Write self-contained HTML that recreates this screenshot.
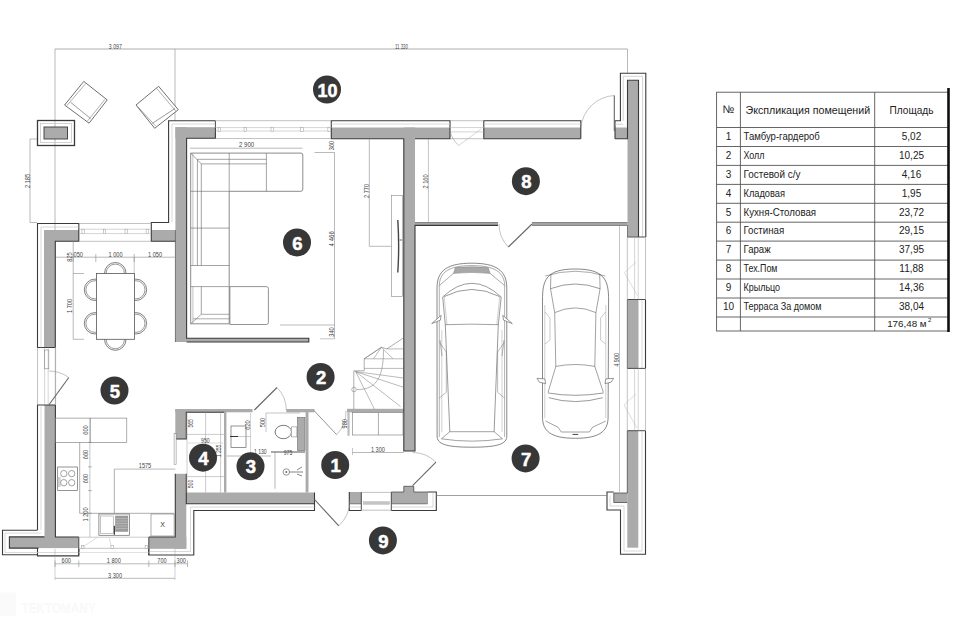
<!DOCTYPE html>
<html><head><meta charset="utf-8"><style>
html,body{margin:0;padding:0;background:#fff;width:960px;height:640px;overflow:hidden}
svg{display:block;font-family:"Liberation Sans",sans-serif}
</style></head><body>
<svg width="960" height="640" viewBox="0 0 960 640">
<rect width="960" height="640" fill="#fff"/>
<line x1="55" y1="49" x2="627.5" y2="49" stroke="#8a8a8a" stroke-width="0.7"/>
<line x1="55" y1="49" x2="55" y2="241" stroke="#8a8a8a" stroke-width="0.6"/>
<line x1="175" y1="49" x2="175" y2="121" stroke="#8a8a8a" stroke-width="0.6"/>
<line x1="627.5" y1="49" x2="627.5" y2="73" stroke="#8a8a8a" stroke-width="0.6"/>
<text transform="translate(115.3 48.9) scale(0.72 1)" font-size="7.2" fill="#444" text-anchor="middle">3 097</text>
<text transform="translate(401.4 48.9) scale(0.6 1)" font-size="7.2" fill="#444" text-anchor="middle">11 330</text>
<line x1="30" y1="139" x2="30" y2="222.5" stroke="#8a8a8a" stroke-width="0.6"/>
<line x1="30" y1="139" x2="37" y2="139" stroke="#8a8a8a" stroke-width="0.6"/>
<line x1="30" y1="222.5" x2="37" y2="222.5" stroke="#8a8a8a" stroke-width="0.6"/>
<text transform="translate(29.5 181) rotate(-90) scale(0.78 1)" font-size="7.2" fill="#444" text-anchor="middle">2 185</text>
<rect x="37.5" y="120.5" width="37" height="25" fill="none" stroke="#3a3a3a" stroke-width="1.3" />
<rect x="40.5" y="123.5" width="31" height="19" fill="none" stroke="#c8c8c8" stroke-width="0.8" />
<rect x="44" y="127" width="23.5" height="12" fill="#ababab" stroke="#3a3a3a" stroke-width="0.9" />
<path d="M83.8,81.4 L107.2,99.9 L89.1,123.2 L64.6,105 Z" stroke="#555" stroke-width="0.85" fill="#fff" />
<path d="M85.6,83.6 L66.9,105.6" stroke="#777" stroke-width="0.6" fill="none" />
<path d="M104.9,99.4 L87.4,121.2" stroke="#777" stroke-width="0.6" fill="none" />
<path d="M70.6,102.3 L90.6,118.6" stroke="#666" stroke-width="0.65" fill="none" />
<path d="M158.6,86.3 L178.3,109.7 L154.7,128.3 L136,105 Z" stroke="#555" stroke-width="0.85" fill="#fff" />
<path d="M156.6,88.3 L176,111.3" stroke="#777" stroke-width="0.6" fill="none" />
<path d="M137.9,106.8 L155.6,126" stroke="#777" stroke-width="0.6" fill="none" />
<path d="M152.5,123.3 L175.2,108.3" stroke="#666" stroke-width="0.65" fill="none" />
<rect x="175.4" y="127.2" width="11.2" height="214.7" fill="#ababab" stroke="none" stroke-width="1" />
<rect x="175.4" y="127.2" width="40" height="11.1" fill="#ababab" stroke="none" stroke-width="1" />
<rect x="331.3" y="127.5" width="118.7" height="11.2" fill="#ababab" stroke="none" stroke-width="1" />
<rect x="403.8" y="127.5" width="11.2" height="323.5" fill="#ababab" stroke="none" stroke-width="1" />
<rect x="483.8" y="127.5" width="97" height="11.2" fill="#ababab" stroke="none" stroke-width="1" />
<rect x="615" y="127.5" width="12.5" height="11.2" fill="#ababab" stroke="none" stroke-width="1" />
<rect x="627.5" y="80.3" width="11" height="156.4" fill="#ababab" stroke="none" stroke-width="1" />
<rect x="44" y="230" width="11.3" height="117.5" fill="#ababab" stroke="none" stroke-width="1" />
<rect x="44" y="230" width="34.8" height="11.3" fill="#ababab" stroke="none" stroke-width="1" />
<rect x="151.3" y="230" width="24.1" height="11.3" fill="#ababab" stroke="none" stroke-width="1" />
<rect x="44.5" y="405" width="10.9" height="132" fill="#ababab" stroke="none" stroke-width="1" />
<rect x="9.4" y="536.9" width="69.4" height="11.2" fill="#ababab" stroke="none" stroke-width="1" />
<rect x="148.8" y="537" width="37.5" height="11.8" fill="#ababab" stroke="none" stroke-width="1" />
<rect x="175.3" y="473.8" width="11" height="75" fill="#ababab" stroke="none" stroke-width="1" />
<rect x="175.3" y="409" width="11" height="30" fill="#ababab" stroke="none" stroke-width="1" />
<rect x="186" y="492.5" width="128.5" height="11.3" fill="#ababab" stroke="none" stroke-width="1" />
<rect x="349.3" y="492" width="12" height="11.8" fill="#ababab" stroke="none" stroke-width="1" />
<rect x="391.3" y="492" width="36.2" height="11.8" fill="#ababab" stroke="none" stroke-width="1" />
<rect x="403.8" y="486.3" width="10" height="6" fill="#ababab" stroke="none" stroke-width="1" />
<rect x="627.3" y="299.5" width="11.2" height="69" fill="#ababab" stroke="none" stroke-width="1" />
<rect x="627.3" y="430.7" width="11" height="117" fill="#ababab" stroke="none" stroke-width="1" />
<rect x="613.8" y="493" width="13.7" height="9.5" fill="#ababab" stroke="none" stroke-width="1" />
<rect x="175.4" y="338.2" width="133.4" height="3.8" fill="#ababab" stroke="none" stroke-width="1" />
<rect x="175.3" y="409" width="77.2" height="3.3" fill="#ababab" stroke="none" stroke-width="1" />
<rect x="286.3" y="409" width="28.2" height="3.3" fill="#ababab" stroke="none" stroke-width="1" />
<rect x="224" y="412" width="2.4" height="80.5" fill="#ababab" stroke="none" stroke-width="1" />
<rect x="305.6" y="409" width="2.9" height="83.5" fill="#ababab" stroke="none" stroke-width="1" />
<rect x="347" y="408.8" width="56.8" height="3.6" fill="#ababab" stroke="none" stroke-width="1" />
<rect x="415" y="222.6" width="83" height="2.8" fill="#ababab" stroke="none" stroke-width="1" />
<rect x="532" y="222.6" width="95.5" height="2.8" fill="#ababab" stroke="none" stroke-width="1" />
<path d="M215.4,120.7 L168.6,120.7 L168.6,222.5 L151.3,222.5 L151.3,230" stroke="#3a3a3a" stroke-width="1.1" fill="none" />
<path d="M55.3,347.5 L37.5,347.5 L37.5,223.5 L78.8,223.5 L78.8,230" stroke="#3a3a3a" stroke-width="1.1" fill="none" />
<path d="M55.4,405 L37.5,405 L37.5,530" stroke="#3a3a3a" stroke-width="1.1" fill="none" />
<line x1="55.6" y1="347.5" x2="55.6" y2="405" stroke="#999" stroke-width="0.6"/>
<path d="M331.3,127.5 L331.3,120.7 L450,120.7 L450,127.5" stroke="#3a3a3a" stroke-width="1.1" fill="none" />
<path d="M483.8,127.5 L483.8,120.7 L580.8,120.7 L580.8,138.7" stroke="#3a3a3a" stroke-width="1.1" fill="none" />
<path d="M615,138.7 L615,120.7 L620.4,120.7 L620.4,73.3 L645.8,73.3 L645.8,237" stroke="#3a3a3a" stroke-width="1.1" fill="none" />
<path d="M645.5,299.5 L645.5,368.4" stroke="#3a3a3a" stroke-width="1.1" fill="none" />
<path d="M645.5,430.7 L645.5,554.3 L620.5,554.3 L620.5,510 L607,510 L607,492 L613.8,492" stroke="#3a3a3a" stroke-width="1.1" fill="none" />
<path d="M427.5,492 L436.3,492 L436.3,510.5 L391.3,510.5" stroke="#3a3a3a" stroke-width="1.1" fill="none" />
<path d="M361.3,510.5 L349.3,510.5 L349.3,492" stroke="#3a3a3a" stroke-width="1.1" fill="none" />
<path d="M314.5,492.5 L314.5,510.5 L193.8,510.5 L193.8,555 L148.8,555 L148.8,548.8" stroke="#3a3a3a" stroke-width="1.1" fill="none" />
<path d="M78.8,548.8 L78.8,555.9 L37.5,555.9 L37.5,548.1" stroke="#3a3a3a" stroke-width="1.1" fill="none" />
<path d="M37.5,554.7 L2.5,554.7 L2.5,530.3 L37.5,530.3" stroke="#3a3a3a" stroke-width="1.1" fill="none" />
<path d="M44.5,536.9 L9.4,536.9 L9.4,548.1 L38.5,548.1" stroke="#3a3a3a" stroke-width="1.1" fill="none" />
<path d="M215.4,124 L172,124 L172,222" stroke="#c8c8c8" stroke-width="0.7" fill="none" />
<path d="M41,347.5 L41,227 L78.8,227" stroke="#c8c8c8" stroke-width="0.7" fill="none" />
<path d="M41,405 L41,530" stroke="#c8c8c8" stroke-width="0.7" fill="none" />
<path d="M331.3,124 L450,124" stroke="#c8c8c8" stroke-width="0.7" fill="none" />
<path d="M483.8,124 L580.8,124" stroke="#c8c8c8" stroke-width="0.7" fill="none" />
<path d="M623.2,120.7 L623.2,76.3 L642.6,76.3 L642.6,237" stroke="#c8c8c8" stroke-width="0.8" fill="none" />
<path d="M615,124.2 L623.2,124.2" stroke="#c8c8c8" stroke-width="0.8" fill="none" />
<path d="M642,299.5 L642,368.4" stroke="#c8c8c8" stroke-width="0.7" fill="none" />
<path d="M642,430.7 L642,551 L624,551 L624,506 L610,506 L610,495.5" stroke="#c8c8c8" stroke-width="0.7" fill="none" />
<path d="M433,493 L433,507 L391.3,507" stroke="#c8c8c8" stroke-width="0.7" fill="none" />
<path d="M361.3,507 L349.3,507" stroke="#c8c8c8" stroke-width="0.7" fill="none" />
<path d="M314.5,507 L190.5,507 L190.5,551.5 L148.8,551.5" stroke="#c8c8c8" stroke-width="0.7" fill="none" />
<path d="M78.8,552.5 L5,552.5 L5,533.1 L41,533.1" stroke="#c8c8c8" stroke-width="0.7" fill="none" />
<path d="M215.4,127.2 L215.4,138.3 L186.6,138.3 L186.6,338.2 L308.8,338.2 L308.8,342 L186.6,342" stroke="#3a3a3a" stroke-width="1.1" fill="none" />
<path d="M175.4,342 L175.4,230" stroke="#3a3a3a" stroke-width="0.6" fill="none" />
<path d="M331.3,127.5 L331.3,138.7 L403.8,138.7 L403.8,451 L415,451 L415,225.4 L498,225.4" stroke="#3a3a3a" stroke-width="1.1" fill="none" />
<path d="M415,138.7 L450,138.7 L450,127.5" stroke="#3a3a3a" stroke-width="1.1" fill="none" />
<path d="M415,222.6 L498,222.6" stroke="#3a3a3a" stroke-width="0.6" fill="none" />
<path d="M532,222.6 L627.5,222.6" stroke="#3a3a3a" stroke-width="0.6" fill="none" />
<path d="M532,225.4 L627.5,225.4 L627.5,237" stroke="#3a3a3a" stroke-width="0.6" fill="none" />
<path d="M483.8,127.5 L483.8,138.7 L580.8,138.7" stroke="#3a3a3a" stroke-width="1.1" fill="none" />
<path d="M615,138.7 L627.5,138.7 L627.5,80.3 L638.5,80.3 L638.5,237" stroke="#3a3a3a" stroke-width="1.1" fill="none" />
<path d="M55.3,347.5 L55.3,241.3 L78.8,241.3 L78.8,230" stroke="#3a3a3a" stroke-width="1.1" fill="none" />
<path d="M151.3,230 L151.3,241.3 L175.4,241.3" stroke="#3a3a3a" stroke-width="1.1" fill="none" />
<path d="M55.4,405 L55.4,537 L78.8,537" stroke="#3a3a3a" stroke-width="1.1" fill="none" />
<path d="M148.8,537 L175.3,537 L175.3,473.8" stroke="#3a3a3a" stroke-width="1.1" fill="none" />
<path d="M186.3,473.8 L186.3,503.8 L314.5,503.8" stroke="#3a3a3a" stroke-width="1.1" fill="none" />
<path d="M175.3,439 L186.3,439 L186.3,412.3 L224,412.3" stroke="#3a3a3a" stroke-width="1.1" fill="none" />
<path d="M627.3,299.5 L627.3,368.4" stroke="#3a3a3a" stroke-width="0.6" fill="none" />
<path d="M627.3,430.7 L627.3,493 L613.8,493 L613.8,502.5 L627.3,502.5" stroke="#3a3a3a" stroke-width="0.7" fill="none" />
<path d="M427.5,492 L427.5,503.8" stroke="#777" stroke-width="0.5" fill="none" />
<path d="M427.5,492 L413.8,492 L413.8,486.3 L403.8,486.3 L403.8,492 L391.3,492" stroke="#3a3a3a" stroke-width="0.7" fill="none" />
<line x1="215.4" y1="120.7" x2="215.4" y2="127.2" stroke="#3a3a3a" stroke-width="0.9"/>
<line x1="78.8" y1="537" x2="78.8" y2="555" stroke="#3a3a3a" stroke-width="0.9"/>
<line x1="148.8" y1="537" x2="148.8" y2="555" stroke="#3a3a3a" stroke-width="0.9"/>
<line x1="361.3" y1="492" x2="361.3" y2="510.5" stroke="#3a3a3a" stroke-width="0.9"/>
<line x1="391.3" y1="492" x2="391.3" y2="510.5" stroke="#3a3a3a" stroke-width="0.9"/>
<line x1="627.3" y1="237" x2="645.5" y2="237" stroke="#3a3a3a" stroke-width="0.9"/>
<line x1="627.3" y1="299.5" x2="645.5" y2="299.5" stroke="#3a3a3a" stroke-width="0.9"/>
<line x1="627.3" y1="368.4" x2="645.5" y2="368.4" stroke="#3a3a3a" stroke-width="0.9"/>
<line x1="627.3" y1="430.7" x2="645.5" y2="430.7" stroke="#3a3a3a" stroke-width="0.9"/>
<line x1="215.4" y1="120.7" x2="331.3" y2="120.7" stroke="#999" stroke-width="0.6"/>
<line x1="215.4" y1="138.5" x2="331.3" y2="138.5" stroke="#999" stroke-width="0.6"/>
<line x1="215.4" y1="127.6" x2="331.3" y2="127.6" stroke="#aaa" stroke-width="0.5"/>
<line x1="215.4" y1="131" x2="331.3" y2="131" stroke="#aaa" stroke-width="0.5"/>
<rect x="218.1" y="127.4" width="2.6" height="4" fill="#fff" stroke="#999" stroke-width="0.5" />
<rect x="244.1" y="127.4" width="2.6" height="4" fill="#fff" stroke="#999" stroke-width="0.5" />
<rect x="271.0" y="127.4" width="2.6" height="4" fill="#fff" stroke="#999" stroke-width="0.5" />
<rect x="300.7" y="127.4" width="2.6" height="4" fill="#fff" stroke="#999" stroke-width="0.5" />
<rect x="327.9" y="127.4" width="2.6" height="4" fill="#fff" stroke="#999" stroke-width="0.5" />
<line x1="78.8" y1="223.5" x2="151.3" y2="223.5" stroke="#999" stroke-width="0.6"/>
<line x1="78.8" y1="241.3" x2="151.3" y2="241.3" stroke="#999" stroke-width="0.6"/>
<line x1="78.8" y1="229.2" x2="151.3" y2="229.2" stroke="#aaa" stroke-width="0.5"/>
<line x1="78.8" y1="233.6" x2="151.3" y2="233.6" stroke="#aaa" stroke-width="0.5"/>
<rect x="81.89999999999999" y="229.2" width="2.4" height="4.4" fill="#fff" stroke="#999" stroke-width="0.5" />
<rect x="103.3" y="229.2" width="2.4" height="4.4" fill="#fff" stroke="#999" stroke-width="0.5" />
<rect x="125.0" y="229.2" width="2.4" height="4.4" fill="#fff" stroke="#999" stroke-width="0.5" />
<rect x="146.10000000000002" y="229.2" width="2.4" height="4.4" fill="#fff" stroke="#999" stroke-width="0.5" />
<line x1="450" y1="120.7" x2="483.8" y2="120.7" stroke="#999" stroke-width="0.6"/>
<line x1="450" y1="138.7" x2="483.8" y2="138.7" stroke="#999" stroke-width="0.6"/>
<line x1="450" y1="127.53999999999999" x2="483.8" y2="127.53999999999999" stroke="#aaa" stroke-width="0.5"/>
<line x1="450" y1="131.85999999999999" x2="483.8" y2="131.85999999999999" stroke="#aaa" stroke-width="0.5"/>
<line x1="78.8" y1="537.2" x2="148.8" y2="537.2" stroke="#aaa" stroke-width="0.6"/>
<line x1="78.8" y1="548.3" x2="148.8" y2="548.3" stroke="#999" stroke-width="0.6"/>
<line x1="78.8" y1="552.5" x2="148.8" y2="552.5" stroke="#ccc" stroke-width="0.6"/>
<rect x="81.4" y="545.5" width="2.6" height="2.8" fill="#fff" stroke="#999" stroke-width="0.5" />
<rect x="110.9" y="545.5" width="2.6" height="2.8" fill="#fff" stroke="#999" stroke-width="0.5" />
<rect x="145.1" y="545.5" width="2.6" height="2.8" fill="#fff" stroke="#999" stroke-width="0.5" />
<path d="M82.2,547.3 L97.2,537.5 M109.4,538.4 L111.2,546" stroke="#bbb" stroke-width="0.5" fill="none" />
<line x1="361.3" y1="492.4" x2="391.3" y2="492.4" stroke="#999" stroke-width="0.6"/>
<line x1="361.3" y1="510.2" x2="391.3" y2="510.2" stroke="#999" stroke-width="0.6"/>
<rect x="363.4" y="501.7" width="26.1" height="2.6" fill="#c4c4c4" stroke="#aaa" stroke-width="0.4" />
<path d="M349.3,503.8 L361.3,503.8" stroke="#555" stroke-width="0.7" fill="none" />
<path d="M391.3,503.8 L427.5,503.8" stroke="#555" stroke-width="0.7" fill="none" />
<line x1="627.3" y1="237" x2="627.3" y2="299.5" stroke="#999" stroke-width="0.6"/>
<line x1="645.5" y1="237" x2="645.5" y2="299.5" stroke="#999" stroke-width="0.6"/>
<line x1="634.5799999999999" y1="237" x2="634.5799999999999" y2="299.5" stroke="#aaa" stroke-width="0.5"/>
<line x1="638.22" y1="237" x2="638.22" y2="299.5" stroke="#aaa" stroke-width="0.5"/>
<line x1="627.3" y1="368.4" x2="627.3" y2="430.7" stroke="#999" stroke-width="0.6"/>
<line x1="645.5" y1="368.4" x2="645.5" y2="430.7" stroke="#999" stroke-width="0.6"/>
<line x1="634.5799999999999" y1="368.4" x2="634.5799999999999" y2="430.7" stroke="#aaa" stroke-width="0.5"/>
<line x1="638.22" y1="368.4" x2="638.22" y2="430.7" stroke="#aaa" stroke-width="0.5"/>
<line x1="37.5" y1="347.5" x2="37.5" y2="405" stroke="#999" stroke-width="0.6"/>
<line x1="55.3" y1="347.5" x2="55.3" y2="405" stroke="#999" stroke-width="0.6"/>
<line x1="44.62" y1="347.5" x2="44.62" y2="405" stroke="#aaa" stroke-width="0.5"/>
<line x1="48.18" y1="347.5" x2="48.18" y2="405" stroke="#aaa" stroke-width="0.5"/>
<path d="M48.8,405 L68.8,377.5" stroke="#666" stroke-width="1.1" fill="none" />
<path d="M68.8,377.5 A34.0,34.0 0 0 0 48.8,371" stroke="#888" stroke-width="0.5" fill="none" />
<rect x="44.5" y="350" width="4.3" height="18.8" fill="none" stroke="#888" stroke-width="0.6" />
<path d="M254.4,410 L277,387.5" stroke="#666" stroke-width="1.1" fill="none" />
<path d="M277,387.5 A31.9,31.9 0 0 1 286.3,410" stroke="#888" stroke-width="0.5" fill="none" />
<path d="M314,410.6 L336.6,434.6" stroke="#666" stroke-width="0.7" fill="none" />
<path d="M336.6,434.6 A33.0,33.0 0 0 0 346,410.6" stroke="#888" stroke-width="0.5" fill="none" />
<path d="M412.6,485.7 L436,462.2" stroke="#666" stroke-width="1.1" fill="none" />
<path d="M436,462.2 A33.2,33.2 0 0 0 412.6,452.5" stroke="#888" stroke-width="0.5" fill="none" />
<path d="M314.5,499.5 L338.8,525.8" stroke="#666" stroke-width="1.1" fill="none" />
<path d="M338.8,525.8 A35.8,35.8 0 0 0 350,499.5" stroke="#888" stroke-width="0.5" fill="none" />
<path d="M532,224 L508.3,247" stroke="#666" stroke-width="1.1" fill="none" />
<path d="M508.3,247 A33.0,33.0 0 0 1 499,224" stroke="#888" stroke-width="0.5" fill="none" />
<path d="M614.3,131 L614.3,95.5" stroke="#666" stroke-width="1.1" fill="none" />
<path d="M614.3,95.5 A35.5,35.5 0 0 0 580.8,128" stroke="#888" stroke-width="0.5" fill="none" />
<path d="M481.3,128.8 L458.8,145.5" stroke="#aaa" stroke-width="0.5" fill="none" />
<path d="M458.8,145.5 A28.0,28.0 0 0 1 450,131" stroke="#888" stroke-width="0.5" fill="none" />
<rect x="174.1" y="433.5" width="2" height="31" fill="#fff" stroke="#777" stroke-width="0.5" />
<path d="M624.4,272.6 L637.5,295.6 M624.4,272.6 L636,262" stroke="#bbb" stroke-width="0.5" fill="none" />
<path d="M624,405 L637,428 M624,405 L636,394" stroke="#bbb" stroke-width="0.5" fill="none" />
<circle cx="115.3" cy="273.2" r="10.7" fill="none" stroke="#555" stroke-width="0.75"/>
<circle cx="115.3" cy="273.2" r="9.1" fill="none" stroke="#555" stroke-width="0.6"/>
<circle cx="115.3" cy="339.6" r="10.7" fill="none" stroke="#555" stroke-width="0.75"/>
<circle cx="115.3" cy="339.6" r="9.1" fill="none" stroke="#555" stroke-width="0.6"/>
<circle cx="95.0" cy="289.8" r="10.7" fill="none" stroke="#555" stroke-width="0.75"/>
<circle cx="95.0" cy="289.8" r="9.1" fill="none" stroke="#555" stroke-width="0.6"/>
<circle cx="95.0" cy="323.3" r="10.7" fill="none" stroke="#555" stroke-width="0.75"/>
<circle cx="95.0" cy="323.3" r="9.1" fill="none" stroke="#555" stroke-width="0.6"/>
<circle cx="135.9" cy="289.8" r="10.7" fill="none" stroke="#555" stroke-width="0.75"/>
<circle cx="135.9" cy="289.8" r="9.1" fill="none" stroke="#555" stroke-width="0.6"/>
<circle cx="135.9" cy="323.3" r="10.7" fill="none" stroke="#555" stroke-width="0.75"/>
<circle cx="135.9" cy="323.3" r="9.1" fill="none" stroke="#555" stroke-width="0.6"/>
<rect x="96.4" y="273.5" width="38.1" height="65.8" fill="#fff" stroke="#555" stroke-width="0.8" />
<line x1="55.8" y1="257.2" x2="174.9" y2="257.2" stroke="#8a8a8a" stroke-width="0.6"/>
<line x1="73.2" y1="254" x2="73.2" y2="262" stroke="#8a8a8a" stroke-width="0.6"/>
<line x1="95.8" y1="254" x2="95.8" y2="262" stroke="#8a8a8a" stroke-width="0.6"/>
<line x1="134.2" y1="254" x2="134.2" y2="262" stroke="#8a8a8a" stroke-width="0.6"/>
<line x1="134.2" y1="257" x2="134.2" y2="273.5" stroke="#8a8a8a" stroke-width="0.5"/>
<line x1="73.2" y1="241" x2="73.2" y2="339.3" stroke="#8a8a8a" stroke-width="0.6"/>
<line x1="73.2" y1="273.5" x2="84" y2="273.5" stroke="#8a8a8a" stroke-width="0.6"/>
<line x1="73.2" y1="339.3" x2="84" y2="339.3" stroke="#8a8a8a" stroke-width="0.6"/>
<text transform="translate(78.3 256.5) scale(0.78 1)" font-size="7.2" fill="#444" text-anchor="middle">050</text>
<text transform="translate(115.6 256.5) scale(0.78 1)" font-size="7.2" fill="#444" text-anchor="middle">1 000</text>
<text transform="translate(155.1 256.5) scale(0.78 1)" font-size="7.2" fill="#444" text-anchor="middle">1 050</text>
<text transform="translate(72 257) rotate(-90) scale(0.78 1)" font-size="7.2" fill="#444" text-anchor="middle">825</text>
<text transform="translate(72 306) rotate(-90) scale(0.78 1)" font-size="7.2" fill="#444" text-anchor="middle">1 700</text>
<path d="M190.7,153.1 H301 Q302.8,153.1 302.8,155 V189.3 Q302.8,191.3 300.8,191.3 H229.2 V323.8 H190.7 Z" stroke="#666" stroke-width="0.75" fill="#fff" />
<path d="M192.9,153.1 V265.5 M192.9,286.6 V323.8" stroke="#999" stroke-width="0.6" fill="none" />
<path d="M197.4,159.3 V265.5 M201.3,163.9 V265.5 M201.3,286.6 V314.3" stroke="#666" stroke-width="0.6" fill="none" />
<path d="M197.4,159.3 H266.4 M201.3,163.9 H266.4 M190.7,153.1 L201.3,163.9" stroke="#666" stroke-width="0.6" fill="none" />
<path d="M229.2,153.1 V191.3 M266.4,153.1 V191.3" stroke="#666" stroke-width="0.6" fill="none" />
<path d="M190.7,191.3 H229.2 M190.7,228.1 H229.2 M190.7,265.5 H229.2 M190.7,286.6 H229.2" stroke="#666" stroke-width="0.6" fill="none" />
<path d="M201.3,314.3 H229.2 M192.9,318.8 H229.2 M190.7,323.8 L201.3,314.3" stroke="#666" stroke-width="0.55" fill="none" />
<path d="M229.9,286.6 H266.4 Q268.4,286.6 268.4,288.6 V322.5 Q268.4,324.5 266.4,324.5 H229.9 Z" stroke="#666" stroke-width="0.7" fill="#fff" />
<line x1="190" y1="148.2" x2="302.5" y2="148.2" stroke="#8a8a8a" stroke-width="0.6"/>
<text transform="translate(246.6 147) scale(0.8 1)" font-size="7.6" fill="#444" text-anchor="middle">2 900</text>
<line x1="334.5" y1="152.5" x2="334.5" y2="338.8" stroke="#8a8a8a" stroke-width="0.6"/>
<line x1="314.5" y1="152.5" x2="334.5" y2="152.5" stroke="#8a8a8a" stroke-width="0.6"/>
<line x1="280" y1="325" x2="334.5" y2="325" stroke="#8a8a8a" stroke-width="0.6"/>
<line x1="320" y1="338.8" x2="334.5" y2="338.8" stroke="#8a8a8a" stroke-width="0.5"/>
<text transform="translate(333.5 145.5) rotate(-90) scale(0.78 1)" font-size="7.2" fill="#444" text-anchor="middle">360</text>
<text transform="translate(333.5 238.8) rotate(-90) scale(0.8 1)" font-size="7.6" fill="#444" text-anchor="middle">4 466</text>
<text transform="translate(333.5 332) rotate(-90) scale(0.78 1)" font-size="7.2" fill="#444" text-anchor="middle">340</text>
<line x1="369.3" y1="139.3" x2="369.3" y2="246.3" stroke="#8a8a8a" stroke-width="0.6"/>
<line x1="369.3" y1="246.3" x2="391.3" y2="246.3" stroke="#8a8a8a" stroke-width="0.6"/>
<text transform="translate(368.5 191) rotate(-90) scale(0.78 1)" font-size="7.2" fill="#444" text-anchor="middle">2 770</text>
<rect x="391.3" y="195.5" width="11.2" height="100.8" fill="none" stroke="#888" stroke-width="0.6" />
<path d="M397.8,220 Q399.5,246 397.8,272.5" stroke="#444" stroke-width="1.4" fill="none" />
<line x1="399.5" y1="240" x2="402" y2="240" stroke="#444" stroke-width="0.8"/>
<path d="M353.8,409 V370.8 H364.2 V358.8 L381.4,347.3 L386.9,348.9 L403.3,338" stroke="#777" stroke-width="0.6" fill="none" />
<path d="M364.2,358.8 H403.3 M364.2,368.4 H403.3 M386.9,348.9 H403.3" stroke="#777" stroke-width="0.5" fill="none" />
<path d="M355.6,371.6 L403.3,387.2 M355.6,371.6 L400.5,406.5 M355.6,371.6 L374.4,409 M355.6,371.6 L403.3,378" stroke="#777" stroke-width="0.5" fill="none" />
<path d="M364.2,358.8 L381.4,347.3 L393,358.8 M373.5,358.8 L381.4,347.3" stroke="#777" stroke-width="0.5" fill="none" />
<path d="M356.5,389.5 C376,390 383.5,378 383.5,350" stroke="#888" stroke-width="0.6" fill="none" />
<circle cx="354" cy="389.5" r="2.3" fill="none" stroke="#888" stroke-width="0.6"/>
<ellipse cx="283.3" cy="432" rx="8.2" ry="6.7" fill="#fff" stroke="#555" stroke-width="0.8"/>
<rect x="291.3" y="426.9" width="5.6" height="10" fill="#fff" stroke="#777" stroke-width="0.5" />
<rect x="297.6" y="417.5" width="7.4" height="33" fill="#ababab" stroke="#666" stroke-width="0.6" />
<line x1="266" y1="413" x2="266" y2="432" stroke="#8a8a8a" stroke-width="0.5"/>
<line x1="266" y1="413" x2="300" y2="413" stroke="#8a8a8a" stroke-width="0.5"/>
<text transform="translate(264.5 422.5) rotate(-90) scale(0.78 1)" font-size="7.2" fill="#444" text-anchor="middle">500</text>
<rect x="231" y="426" width="15" height="21.5" fill="none" stroke="#666" stroke-width="0.7" />
<line x1="230" y1="436.5" x2="238" y2="436.5" stroke="#333" stroke-width="1"/>
<line x1="238" y1="436.5" x2="251" y2="436.5" stroke="#999" stroke-width="0.5"/>
<text transform="translate(250 425) rotate(-90) scale(0.78 1)" font-size="7.2" fill="#444" text-anchor="middle">620</text>
<line x1="250.5" y1="413" x2="250.5" y2="456" stroke="#aaa" stroke-width="0.5"/>
<line x1="227" y1="456" x2="271" y2="456" stroke="#8a8a8a" stroke-width="0.6"/>
<line x1="271" y1="452" x2="305" y2="452" stroke="#555" stroke-width="1.2"/>
<line x1="275" y1="452" x2="275" y2="488.8" stroke="#888" stroke-width="0.6"/>
<text transform="translate(260.3 454.2) scale(0.78 1)" font-size="6.5" fill="#444" text-anchor="middle">1 130</text>
<text transform="translate(288 455) scale(0.78 1)" font-size="6.5" fill="#444" text-anchor="middle">975</text>
<circle cx="286.3" cy="472" r="3.2" fill="none" stroke="#666" stroke-width="0.7"/>
<circle cx="286.3" cy="472" r="1" fill="#666"/>
<path d="M289.5,472 H297 M297,470 L302,467 M297,472 L303,472 M297,474 L302,476" stroke="#555" stroke-width="0.7" fill="none" />
<line x1="187" y1="412.3" x2="187" y2="492.5" stroke="#999" stroke-width="0.5"/>
<line x1="205.6" y1="412.3" x2="205.6" y2="492.5" stroke="#999" stroke-width="0.5"/>
<line x1="220.6" y1="412.3" x2="220.6" y2="492.5" stroke="#999" stroke-width="0.5"/>
<line x1="186.3" y1="434.4" x2="224" y2="434.4" stroke="#999" stroke-width="0.5"/>
<line x1="186.3" y1="476.6" x2="224" y2="476.6" stroke="#999" stroke-width="0.5"/>
<text transform="translate(205.3 442.7) scale(0.78 1)" font-size="6.5" fill="#444" text-anchor="middle">950</text>
<text transform="translate(192.5 423.4) rotate(-90) scale(0.78 1)" font-size="6.5" fill="#444" text-anchor="middle">565</text>
<text transform="translate(221 451) rotate(-90) scale(0.78 1)" font-size="6.5" fill="#444" text-anchor="middle">1 255</text>
<text transform="translate(192.5 484) rotate(-90) scale(0.78 1)" font-size="6.5" fill="#444" text-anchor="middle">500</text>
<line x1="188" y1="443" x2="223" y2="443" stroke="#aaa" stroke-width="0.4"/>
<rect x="352.5" y="412.5" width="50.5" height="22.5" fill="none" stroke="#777" stroke-width="0.6" />
<line x1="378.4" y1="412.5" x2="378.4" y2="435" stroke="#777" stroke-width="0.6"/>
<rect x="347.4" y="412.3" width="2.2" height="23.5" fill="#bdbdbd" stroke="none" stroke-width="1" />
<text transform="translate(347 423.8) rotate(-90) scale(0.78 1)" font-size="7.2" fill="#444" text-anchor="middle">980</text>
<line x1="352.5" y1="452.5" x2="403.8" y2="452.5" stroke="#8a8a8a" stroke-width="0.6"/>
<line x1="352.5" y1="448" x2="352.5" y2="455" stroke="#8a8a8a" stroke-width="0.5"/>
<text transform="translate(377.9 451.5) scale(0.78 1)" font-size="7.2" fill="#444" text-anchor="middle">1 300</text>
<rect x="55.4" y="418.1" width="71.4" height="24.3" fill="none" stroke="#777" stroke-width="0.6" />
<line x1="90.3" y1="418.1" x2="90.3" y2="442.4" stroke="#777" stroke-width="0.6"/>
<path d="M79.7,442.4 V513.3 H174.1" stroke="#777" stroke-width="0.6" fill="none" />
<line x1="89.9" y1="418" x2="89.9" y2="537" stroke="#8a8a8a" stroke-width="0.5"/>
<line x1="88" y1="442.4" x2="92" y2="442.4" stroke="#8a8a8a" stroke-width="0.6"/>
<line x1="88" y1="466.8" x2="92" y2="466.8" stroke="#8a8a8a" stroke-width="0.6"/>
<line x1="88" y1="490.6" x2="92" y2="490.6" stroke="#8a8a8a" stroke-width="0.6"/>
<line x1="88" y1="513.3" x2="92" y2="513.3" stroke="#8a8a8a" stroke-width="0.6"/>
<text transform="translate(88.3 430) rotate(-90) scale(0.78 1)" font-size="7.2" fill="#444" text-anchor="middle">600</text>
<text transform="translate(88.3 454.5) rotate(-90) scale(0.78 1)" font-size="7.2" fill="#444" text-anchor="middle">660</text>
<text transform="translate(88.3 478.5) rotate(-90) scale(0.78 1)" font-size="7.2" fill="#444" text-anchor="middle">600</text>
<text transform="translate(88.3 514.5) rotate(-90) scale(0.78 1)" font-size="7.2" fill="#444" text-anchor="middle">1 200</text>
<rect x="57.7" y="467" width="19.7" height="23.6" fill="none" stroke="#666" stroke-width="0.7" />
<circle cx="63.8" cy="473.6" r="3.2" fill="none" stroke="#666" stroke-width="0.6"/>
<circle cx="71.7" cy="473.6" r="3.2" fill="none" stroke="#666" stroke-width="0.6"/>
<circle cx="63.8" cy="482.7" r="3.2" fill="none" stroke="#666" stroke-width="0.6"/>
<circle cx="71.7" cy="482.7" r="3.2" fill="none" stroke="#666" stroke-width="0.6"/>
<path d="M58.8,477 V487 M60,477 V487" stroke="#888" stroke-width="0.5" fill="none" />
<path d="M114.3,469.1 V513.3" stroke="#777" stroke-width="0.6" fill="none" />
<line x1="114.3" y1="469.1" x2="175.5" y2="469.1" stroke="#8a8a8a" stroke-width="0.6"/>
<text transform="translate(145 467.8) scale(0.78 1)" font-size="7.2" fill="#444" text-anchor="middle">1575</text>
<rect x="98.9" y="514" width="30.6" height="21.3" fill="none" stroke="#666" stroke-width="0.7" />
<rect x="100.7" y="516" width="12.9" height="17.5" fill="none" stroke="#888" stroke-width="0.5" />
<rect x="115.5" y="516" width="12.4" height="15.4" fill="#9c9c9c" stroke="#888" stroke-width="0.5" />
<line x1="116" y1="518.5" x2="127.5" y2="518.5" stroke="#c4c4c4" stroke-width="0.6"/>
<line x1="116" y1="521" x2="127.5" y2="521" stroke="#c4c4c4" stroke-width="0.6"/>
<line x1="116" y1="523.5" x2="127.5" y2="523.5" stroke="#c4c4c4" stroke-width="0.6"/>
<line x1="116" y1="526" x2="127.5" y2="526" stroke="#c4c4c4" stroke-width="0.6"/>
<line x1="116" y1="528.5" x2="127.5" y2="528.5" stroke="#c4c4c4" stroke-width="0.6"/>
<line x1="114.3" y1="525.8" x2="114.3" y2="534.8" stroke="#222" stroke-width="1.1"/>
<rect x="151" y="514" width="23.1" height="22" fill="none" stroke="#777" stroke-width="0.6" />
<text x="162.5" y="527" font-size="7" fill="#333" text-anchor="middle" >X</text>
<line x1="55" y1="563.8" x2="187.5" y2="563.8" stroke="#8a8a8a" stroke-width="0.6"/>
<line x1="55" y1="560.5" x2="55" y2="567" stroke="#8a8a8a" stroke-width="0.6"/>
<line x1="78.8" y1="560.5" x2="78.8" y2="567" stroke="#8a8a8a" stroke-width="0.6"/>
<line x1="148.8" y1="560.5" x2="148.8" y2="567" stroke="#8a8a8a" stroke-width="0.6"/>
<line x1="175" y1="560.5" x2="175" y2="567" stroke="#8a8a8a" stroke-width="0.6"/>
<line x1="187.5" y1="560.5" x2="187.5" y2="567" stroke="#8a8a8a" stroke-width="0.6"/>
<line x1="55" y1="548.8" x2="55" y2="580" stroke="#8a8a8a" stroke-width="0.4"/>
<line x1="175" y1="548.8" x2="175" y2="580" stroke="#8a8a8a" stroke-width="0.4"/>
<text transform="translate(66.3 562.8) scale(0.78 1)" font-size="7.2" fill="#444" text-anchor="middle">600</text>
<text transform="translate(113.8 562.8) scale(0.78 1)" font-size="7.2" fill="#444" text-anchor="middle">1 800</text>
<text transform="translate(162 562.8) scale(0.78 1)" font-size="7.2" fill="#444" text-anchor="middle">700</text>
<text transform="translate(181.3 562.8) scale(0.78 1)" font-size="7.2" fill="#444" text-anchor="middle">300</text>
<line x1="55" y1="578.3" x2="175" y2="578.3" stroke="#8a8a8a" stroke-width="0.6"/>
<text transform="translate(115 577.5) scale(0.78 1)" font-size="7.2" fill="#444" text-anchor="middle">3 300</text>
<line x1="428.4" y1="139" x2="428.4" y2="222.6" stroke="#8a8a8a" stroke-width="0.5"/>
<text transform="translate(427.5 181.5) rotate(-90) scale(0.78 1)" font-size="7.2" fill="#444" text-anchor="middle">2 160</text>
<line x1="436.3" y1="495.5" x2="607" y2="495.5" stroke="#777" stroke-width="0.7"/>
<line x1="619.5" y1="225.4" x2="619.5" y2="492" stroke="#8a8a8a" stroke-width="0.5"/>
<text transform="translate(618.5 359.8) rotate(-90) scale(0.78 1)" font-size="7.2" fill="#444" text-anchor="middle">4 900</text>
<path d="M437,288 C437,270 448,263.2 471.8,263.2 C495.6,263.2 506.8,270 506.8,288 L506.8,436 C506.8,444 498,447.2 471.8,447.2 C445.6,447.2 437.1,444 437.1,436 Z" stroke="#555" stroke-width="0.7" fill="#fff" />
<path d="M439.2,287 C439.2,272 449,265.6 471.8,265.6 C494.6,265.6 504.8,272 504.8,287" stroke="#555" stroke-width="0.5" fill="none" />
<path d="M453.4,273.5 L455.3,267.6 Q471.8,265.8 488.3,267.6 L490.2,273.5 Q471.8,271.3 453.4,273.5 Z" stroke="#777" stroke-width="0.4" fill="#a8a8a8" />
<path d="M439.4,285.5 L453.4,273.5 M504.6,285.5 L490.2,273.5" stroke="#555" stroke-width="0.5" fill="none" />
<path d="M442.7,297 Q471.8,269.6 501.2,297 M444.2,296.6 Q471.8,282.3 499.7,296.6" stroke="#555" stroke-width="0.6" fill="none" />
<path d="M442.7,297 L445.3,324.7 L449.8,431.7 M501.2,297 L498.3,324.7 L494.1,431.7" stroke="#555" stroke-width="0.6" fill="none" />
<path d="M444.2,297 L447,324.7 M499.7,297 L496.8,324.7" stroke="#888" stroke-width="0.4" fill="none" />
<path d="M445.3,324.7 Q471.8,323.6 498.3,324.7" stroke="#555" stroke-width="0.55" fill="none" />
<path d="M449.8,431.7 H494.1 M449.8,431.7 L441.4,438.8 M494.1,431.7 L502.5,438.8 M441.4,438.8 Q471.8,443.5 502.5,438.8" stroke="#555" stroke-width="0.55" fill="none" />
<path d="M439.3,287 V437 M504.6,287 V437" stroke="#555" stroke-width="0.45" fill="none" />
<path d="M441.8,330 V432 M502,330 V432" stroke="#888" stroke-width="0.4" fill="none" />
<path d="M441.1,315.3 L431.7,323.6 L440.4,320.2 Z M502.7,315.3 L512.3,323.6 L503.6,320.2 Z" stroke="#555" stroke-width="0.6" fill="#fff" />
<path d="M439.3,342 L446.3,352 V392.3 L439.3,398 M504.6,342 L497.6,352 V392.3 L504.6,398" stroke="#777" stroke-width="0.5" fill="none" />
<path d="M440,340 L442,356 M504,340 L502,356" stroke="#999" stroke-width="0.8" fill="none" />
<path d="M542.5,300 C542.5,280 546,269 575.3,269 C604.6,269 608.6,280 608.6,300 L608.1,417 C608.1,431 600,438.3 575.3,438.3 C550.6,438.3 542.5,431 542.5,417 Z" stroke="#555" stroke-width="0.7" fill="#fff" />
<path d="M545.3,276 Q575.3,266.5 605.3,276" stroke="#555" stroke-width="0.5" fill="none" />
<path d="M550.9,274.2 L550.5,288.7 L554.7,312.6 L555.8,366.4 L548,392.5 M599.7,274.2 L600.1,288.7 L595.9,312.6 L594.8,366.4 L603.4,392.5" stroke="#555" stroke-width="0.55" fill="none" />
<path d="M550.5,288.7 Q575.3,279.3 600.1,288.7" stroke="#555" stroke-width="0.6" fill="none" />
<path d="M554.7,312.6 Q575.3,303.2 595.9,312.6" stroke="#555" stroke-width="0.55" fill="none" />
<path d="M555.8,366.4 Q575.3,362.6 594.8,366.4" stroke="#555" stroke-width="0.55" fill="none" />
<path d="M548,393 Q575.3,397.6 603.4,393 M548.7,397.7 Q575.3,405.4 602.7,397.7" stroke="#555" stroke-width="0.6" fill="none" />
<path d="M545.6,421 L558.1,427.3 L561.3,432 H589.4 L592.5,427.3 L605.8,421" stroke="#555" stroke-width="0.55" fill="none" />
<path d="M572.5,434.4 H578.2" stroke="#444" stroke-width="1" fill="none" />
<path d="M544.8,305 V418 M605.8,305 V418" stroke="#888" stroke-width="0.4" fill="none" />
<path d="M544.8,378.9 L537,378.3 L539.4,382.2 L545.6,383.6 Z M605.8,378.9 L613.6,378.3 L611.2,382.2 L605,383.6 Z" stroke="#555" stroke-width="0.6" fill="#fff" />
<path d="M545,312 L550,318 V340 L545,344 M605.6,312 L600.6,318 V340 L605.6,344" stroke="#888" stroke-width="0.45" fill="none" />
<circle cx="335.2" cy="465" r="14" fill="#373737"/>
<text x="335.7" y="472.1" font-size="18.5" font-weight="bold" fill="#fff" stroke="#fff" stroke-width="0.5" text-anchor="middle">1</text>
<circle cx="320.6" cy="376.9" r="14" fill="#373737"/>
<text x="321.1" y="384.0" font-size="18.5" font-weight="bold" fill="#fff" stroke="#fff" stroke-width="0.5" text-anchor="middle">2</text>
<circle cx="250.5" cy="466.3" r="14" fill="#373737"/>
<text x="251.0" y="473.4" font-size="18.5" font-weight="bold" fill="#fff" stroke="#fff" stroke-width="0.5" text-anchor="middle">3</text>
<circle cx="203" cy="457.7" r="14" fill="#373737"/>
<text x="203.5" y="464.8" font-size="18.5" font-weight="bold" fill="#fff" stroke="#fff" stroke-width="0.5" text-anchor="middle">4</text>
<circle cx="114.5" cy="390.5" r="14" fill="#373737"/>
<text x="115.0" y="397.6" font-size="18.5" font-weight="bold" fill="#fff" stroke="#fff" stroke-width="0.5" text-anchor="middle">5</text>
<circle cx="297" cy="242.5" r="14" fill="#373737"/>
<text x="297.5" y="249.6" font-size="18.5" font-weight="bold" fill="#fff" stroke="#fff" stroke-width="0.5" text-anchor="middle">6</text>
<circle cx="525.6" cy="458.4" r="14" fill="#373737"/>
<text x="526.1" y="465.5" font-size="18.5" font-weight="bold" fill="#fff" stroke="#fff" stroke-width="0.5" text-anchor="middle">7</text>
<circle cx="525.9" cy="181.2" r="14" fill="#373737"/>
<text x="526.4" y="188.3" font-size="18.5" font-weight="bold" fill="#fff" stroke="#fff" stroke-width="0.5" text-anchor="middle">8</text>
<circle cx="382.9" cy="540.4" r="14" fill="#373737"/>
<text x="383.4" y="547.5" font-size="18.5" font-weight="bold" fill="#fff" stroke="#fff" stroke-width="0.5" text-anchor="middle">9</text>
<circle cx="327" cy="89.5" r="14" fill="#373737"/>
<text x="327.5" y="96.6" font-size="18" font-weight="bold" fill="#fff" stroke="#fff" stroke-width="0.5" text-anchor="middle">10</text>
<rect x="716.6" y="92.2" width="231.79999999999995" height="238.8" fill="none" stroke="#555" stroke-width="0.9" />
<line x1="716.6" y1="127.5" x2="948.4" y2="127.5" stroke="#555" stroke-width="0.9"/>
<line x1="716.6" y1="146.5" x2="948.4" y2="146.5" stroke="#555" stroke-width="0.9"/>
<line x1="716.6" y1="165.4" x2="948.4" y2="165.4" stroke="#555" stroke-width="0.9"/>
<line x1="716.6" y1="184.4" x2="948.4" y2="184.4" stroke="#555" stroke-width="0.9"/>
<line x1="716.6" y1="203.3" x2="948.4" y2="203.3" stroke="#555" stroke-width="0.9"/>
<line x1="716.6" y1="222.2" x2="948.4" y2="222.2" stroke="#555" stroke-width="0.9"/>
<line x1="716.6" y1="241.1" x2="948.4" y2="241.1" stroke="#555" stroke-width="0.9"/>
<line x1="716.6" y1="260.1" x2="948.4" y2="260.1" stroke="#555" stroke-width="0.9"/>
<line x1="716.6" y1="279" x2="948.4" y2="279" stroke="#555" stroke-width="0.9"/>
<line x1="716.6" y1="298" x2="948.4" y2="298" stroke="#555" stroke-width="0.9"/>
<line x1="716.6" y1="317" x2="948.4" y2="317" stroke="#555" stroke-width="0.9"/>
<line x1="740.4" y1="92.2" x2="740.4" y2="331" stroke="#555" stroke-width="0.9"/>
<line x1="874.7" y1="92.2" x2="874.7" y2="331" stroke="#555" stroke-width="0.9"/>
<rect x="947.2" y="88" width="2.6" height="244" fill="#111" stroke="none" stroke-width="1" />
<text x="728.5" y="113.4" font-size="11" fill="#222" text-anchor="middle" >№</text>
<text x="745.5" y="113.6" font-size="11.2" fill="#222" text-anchor="start" textLength="124.6" lengthAdjust="spacingAndGlyphs">Экспликация помещений</text>
<text x="911.5" y="113.6" font-size="11.2" fill="#222" text-anchor="middle" textLength="44" lengthAdjust="spacingAndGlyphs">Площадь</text>
<text x="728.6" y="139.7" font-size="10" fill="#222" text-anchor="middle" >1</text>
<text x="743.5" y="139.7" font-size="10" fill="#222" text-anchor="start" textLength="76.3" lengthAdjust="spacingAndGlyphs">Тамбур-гардероб</text>
<text x="911.5" y="139.7" font-size="10" fill="#222" text-anchor="middle" >5,02</text>
<text x="728.6" y="158.7" font-size="10" fill="#222" text-anchor="middle" >2</text>
<text x="743.5" y="158.7" font-size="10" fill="#222" text-anchor="start" textLength="21" lengthAdjust="spacingAndGlyphs">Холл</text>
<text x="911.5" y="158.7" font-size="10" fill="#222" text-anchor="middle" >10,25</text>
<text x="728.6" y="177.6" font-size="10" fill="#222" text-anchor="middle" >3</text>
<text x="743.5" y="177.6" font-size="10" fill="#222" text-anchor="start" textLength="56.9" lengthAdjust="spacingAndGlyphs">Гостевой с/у</text>
<text x="911.5" y="177.6" font-size="10" fill="#222" text-anchor="middle" >4,16</text>
<text x="728.6" y="196.6" font-size="10" fill="#222" text-anchor="middle" >4</text>
<text x="743.5" y="196.6" font-size="10" fill="#222" text-anchor="start" textLength="41.5" lengthAdjust="spacingAndGlyphs">Кладовая</text>
<text x="911.5" y="196.6" font-size="10" fill="#222" text-anchor="middle" >1,95</text>
<text x="728.6" y="215.5" font-size="10" fill="#222" text-anchor="middle" >5</text>
<text x="743.5" y="215.5" font-size="10" fill="#222" text-anchor="start" textLength="72.6" lengthAdjust="spacingAndGlyphs">Кухня-Столовая</text>
<text x="911.5" y="215.5" font-size="10" fill="#222" text-anchor="middle" >23,72</text>
<text x="728.6" y="234.39999999999998" font-size="10" fill="#222" text-anchor="middle" >6</text>
<text x="743.5" y="234.39999999999998" font-size="10" fill="#222" text-anchor="start" textLength="40.7" lengthAdjust="spacingAndGlyphs">Гостиная</text>
<text x="911.5" y="234.39999999999998" font-size="10" fill="#222" text-anchor="middle" >29,15</text>
<text x="728.6" y="253.29999999999998" font-size="10" fill="#222" text-anchor="middle" >7</text>
<text x="743.5" y="253.29999999999998" font-size="10" fill="#222" text-anchor="start" textLength="27.1" lengthAdjust="spacingAndGlyphs">Гараж</text>
<text x="911.5" y="253.29999999999998" font-size="10" fill="#222" text-anchor="middle" >37,95</text>
<text x="728.6" y="272.3" font-size="10" fill="#222" text-anchor="middle" >8</text>
<text x="743.5" y="272.3" font-size="10" fill="#222" text-anchor="start" textLength="33.9" lengthAdjust="spacingAndGlyphs">Тех.Пом</text>
<text x="911.5" y="272.3" font-size="10" fill="#222" text-anchor="middle" >11,88</text>
<text x="728.6" y="291.2" font-size="10" fill="#222" text-anchor="middle" >9</text>
<text x="743.5" y="291.2" font-size="10" fill="#222" text-anchor="start" textLength="36.6" lengthAdjust="spacingAndGlyphs">Крыльцо</text>
<text x="911.5" y="291.2" font-size="10" fill="#222" text-anchor="middle" >14,36</text>
<text x="728.6" y="310.2" font-size="10" fill="#222" text-anchor="middle" >10</text>
<text x="743.5" y="310.2" font-size="10" fill="#222" text-anchor="start" textLength="78" lengthAdjust="spacingAndGlyphs">Терраса За домом</text>
<text x="911.5" y="310.2" font-size="10" fill="#222" text-anchor="middle" >38,04</text>
<text x="926.6" y="326.6" font-size="9.8" fill="#222" text-anchor="end" >176,48 м</text>
<text x="928" y="322" font-size="6" fill="#222" text-anchor="start" >2</text>
<rect x="0" y="592.5" width="16" height="23.5" fill="#fafafa" stroke="none" stroke-width="1" />
<text x="58.5" y="613" font-size="15" fill="#f9f9f9" text-anchor="middle" font-weight="bold" textLength="74" lengthAdjust="spacingAndGlyphs">TEKTOMANY</text>
</svg>
</body></html>
